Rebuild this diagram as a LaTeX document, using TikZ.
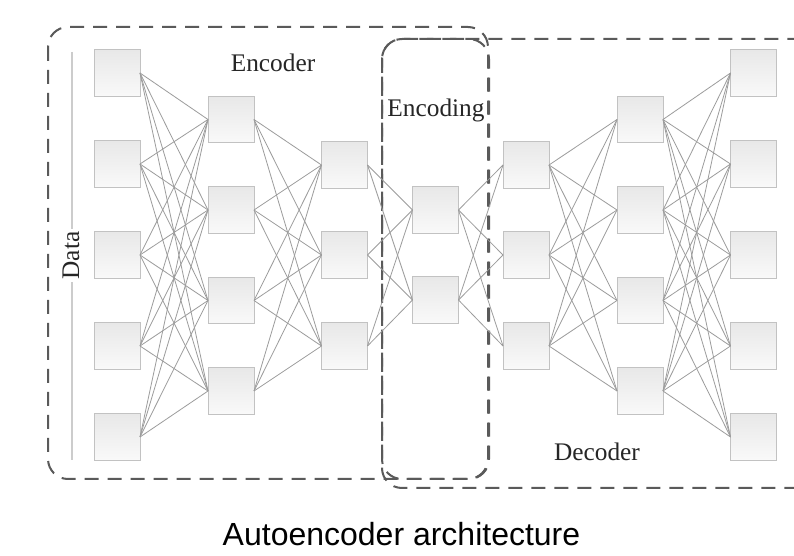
\documentclass[tikz,border=0pt]{standalone}
\usepackage{fontspec}
\setmainfont{Liberation Serif}
\newfontfamily\capfont{Liberation Sans}
\definecolor{dashgray}{HTML}{5A5A5A}
\definecolor{linkgray}{HTML}{9C9C9C}
\definecolor{boxline}{HTML}{C2C2C2}
\definecolor{boxtop}{HTML}{E8E8E8}
\definecolor{boxbot}{HTML}{F9F9F9}
\definecolor{datagray}{HTML}{CCCCCC}
\begin{document}
\begin{tikzpicture}[x=0.75pt,y=-0.75pt,
  unit/.style={draw=boxline, line width=0.75pt, top color=boxtop, bottom color=boxbot,
    minimum width=34.5pt, minimum height=35pt, inner sep=0pt, outer sep=0pt},
  link/.style={draw=linkgray, line width=0.6pt},
  group/.style={draw=dashgray, line width=1.5pt, dash pattern=on 10.5pt off 6.75pt, rounded corners=15pt},
  lbl/.style={font=\fontsize{19}{22}\selectfont, inner sep=0pt, text=black!85}
]
\useasboundingbox (0,0) rectangle (794,556);
\clip (0,0) rectangle (794,556);
\fill[white] (0,0) rectangle (794,556);

% dashed groups
\draw[group] (48,27) rectangle (488,479);
\draw[group] (382,39) rectangle (489,479);
\draw[group, dash phase=4pt] (382,39) rectangle (830,488);

% data line and label
\coordinate (dtop) at (72,52);
\coordinate (dbot) at (72,460);
\draw[datagray, line width=1.1pt] (dtop) -- (dbot);
\node[lbl, rotate=90, fill=white, inner sep=2pt] (data) at (71,255.5) {Data};

% units
\foreach \y [count=\i] in {73,164,255,346,437} \node[unit] (c1-\i) at (117,\y) {};
\foreach \y [count=\i] in {119.5,210,300.5,391} \node[unit] (c2-\i) at (231,\y) {};
\foreach \y [count=\i] in {165,255,346} \node[unit] (c3-\i) at (344.5,\y) {};
\foreach \y [count=\i] in {210,300} \node[unit] (c4-\i) at (435.5,\y) {};
\foreach \y [count=\i] in {165,255,346} \node[unit] (c5-\i) at (526,\y) {};
\foreach \y [count=\i] in {119.5,210,300.5,391} \node[unit] (c6-\i) at (640,\y) {};
\foreach \y [count=\i] in {73,164,255,346,437} \node[unit] (c7-\i) at (753.5,\y) {};

% links
\foreach \a/\na/\b/\nb in {1/5/2/4, 2/4/3/3, 3/3/4/2, 4/2/5/3, 5/3/6/4, 6/4/7/5}
  \foreach \i in {1,...,\na}
    \foreach \j in {1,...,\nb}
      \draw[link] (c\a-\i.east) -- (c\b-\j.west);

% labels
\node[lbl, anchor=base] (enc) at (273,72) {Encoder};
\node[lbl, anchor=base] (encoding) at (436,117) {Encoding};
\node[lbl, anchor=base] (dec) at (597,460) {Decoder};

% caption
\node[anchor=base, inner sep=0pt, font=\capfont\fontsize{24}{28}\selectfont] (cap) at (401.5,546) {Autoencoder architecture};
\end{tikzpicture}
\end{document}
